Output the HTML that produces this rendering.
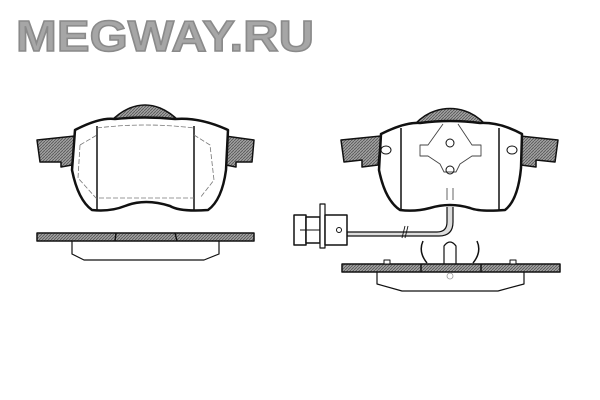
<!DOCTYPE html>
<html><head><style>
html,body{margin:0;padding:0;background:#fff;width:600px;height:400px;overflow:hidden}
</style></head><body>
<svg width="600" height="400" viewBox="0 0 600 400" xmlns="http://www.w3.org/2000/svg">
<defs>
<pattern id="h" width="3" height="3" patternUnits="userSpaceOnUse">
<rect width="3" height="3" fill="#a0a0a0"/>
<path d="M0 3L3 0" stroke="#555" stroke-width="0.8"/>
</pattern>
</defs>
<text x="16" y="51" font-family="Liberation Sans, sans-serif" font-weight="bold" font-size="44" fill="#a6a6a6" stroke="#8a8a8a" stroke-width="1.5" textLength="298" lengthAdjust="spacingAndGlyphs">MEGWAY.RU</text>

<!-- LEFT PAD -->
<g stroke="#111" stroke-width="1.5" stroke-linejoin="round">
<path d="M110 122 Q120 112 130 108 Q145 102 160 108 Q170 112 180 122 Z" fill="url(#h)"/>
<path d="M37 140 L75 136 L72 165 L61 167 L61 162 L40 162 Z" fill="url(#h)"/>
<path d="M254 140 L225 136 L226 165 L236 167 L236 162 L252 162 Z" fill="url(#h)"/>
<path d="M75 130 Q100 117 115 119 Q145 116 175 119 Q200 117 228 130 L226 170 Q222 200 208 210 Q180 212 170 206 Q145 198 125 206 Q110 212 92 210 Q78 200 72 170 Z" fill="#fff" stroke-width="2.5"/>
<line x1="97" y1="126" x2="97" y2="210"/>
<line x1="194" y1="126" x2="194" y2="210"/>
<path d="M80 145 L97 135 M194 135 L210 145 L214 180 L200 198 M80 145 L78 178 L96 198 L194 198" fill="none" stroke="#777" stroke-width="0.8" stroke-dasharray="5 2"/>
<path d="M97 128 Q145 122 194 128" fill="none" stroke="#777" stroke-width="0.8" stroke-dasharray="5 2"/>
<rect x="37" y="233" width="217" height="8" fill="url(#h)" stroke-width="1.5"/>
<line x1="116" y1="233" x2="115" y2="241"/>
<line x1="175" y1="233" x2="177" y2="241"/>
<path d="M72 241 L72 254 L84 260 L204 260 L219 254 L219 241" fill="none" stroke-width="1.2"/>
</g>

<!-- RIGHT PAD -->
<g stroke="#111" stroke-width="1.5" stroke-linejoin="round">
<path d="M415 124 Q425 114 435 111 Q450 106 465 111 Q475 114 485 124 Z" fill="url(#h)"/>
<path d="M341 140 L381 136 L378 165 L362 167 L362 160 L344 162 Z" fill="url(#h)"/>
<path d="M558 140 L520 136 L521 165 L536 167 L536 160 L555 162 Z" fill="url(#h)"/>
<path d="M381 134 Q405 122 420 123 Q450 119 480 123 Q500 122 522 134 L521 168 Q518 200 505 210 Q480 212 470 208 Q450 202 430 208 Q415 212 400 210 Q385 200 379 170 Z" fill="#fff" stroke-width="2.5"/>
<line x1="401" y1="128" x2="401" y2="210"/>
<line x1="499" y1="128" x2="499" y2="210"/>
<ellipse cx="386" cy="150" rx="5" ry="4" fill="none" stroke-width="1"/>
<ellipse cx="512" cy="150" rx="5" ry="4" fill="none" stroke-width="1"/>
<path d="M443 124 L428 145 L420 145 L420 156 L428 156 L440 164 L444 172 L456 172 L460 164 L472 156 L481 156 L481 145 L472 145 L458 124" fill="none" stroke="#444" stroke-width="0.9"/>
<circle cx="450" cy="143" r="4" fill="none" stroke-width="1"/>
<circle cx="450" cy="170" r="4" fill="none" stroke-width="1"/>
<path d="M447 188 L447 200 M453 188 L453 200" stroke="#555" stroke-width="0.9"/>
<path d="M447 207 L447 222 Q447 232 437 232 L347 232 L347 236 L439 236 Q453 236 453 222 L453 207" fill="#ddd" stroke-width="1.2"/>
<path d="M405 238 L408 226 M402 238 L405 226" stroke-width="0.9"/>
<rect x="294" y="215" width="12" height="30" fill="#fff" stroke-width="1.5"/>
<rect x="306" y="217" width="14" height="26" fill="#fff" stroke-width="1.5"/>
<rect x="320" y="204" width="5" height="44" fill="#fff" stroke-width="1.2"/>
<rect x="325" y="215" width="22" height="30" fill="#fff" stroke-width="1.5"/>
<line x1="300" y1="230" x2="320" y2="230" stroke-width="1"/>
<circle cx="339" cy="230" r="2.5" fill="none" stroke-width="1"/>
<path d="M423 241 Q418 252 427 263 M477 241 Q482 252 473 263" fill="none" stroke-width="1.5"/>
<path d="M444 264 L444 246 Q450 238 456 246 L456 264" fill="#fff" stroke-width="1.2"/>
<rect x="342" y="264" width="218" height="8" fill="url(#h)" stroke-width="1.5"/>
<line x1="421" y1="264" x2="421" y2="272"/>
<line x1="481" y1="264" x2="481" y2="272"/>
<rect x="384" y="260" width="6" height="4" fill="#fff" stroke-width="1"/>
<rect x="510" y="260" width="6" height="4" fill="#fff" stroke-width="1"/>
<circle cx="450" cy="276" r="3" fill="none" stroke="#999" stroke-width="0.8"/>
<path d="M377 272 L377 284 L402 291 L498 291 L524 284 L524 272" fill="none" stroke-width="1.2"/>
</g>
</svg>
</body></html>
